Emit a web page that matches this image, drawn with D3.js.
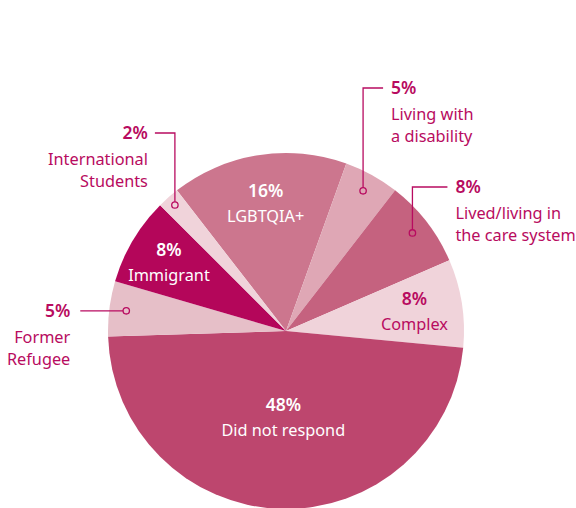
<!DOCTYPE html>
<html><head><meta charset="utf-8">
<script src="https://cdn.jsdelivr.net/npm/d3@7"></script>
<style>body{margin:0;background:#fff;} svg{display:block;}</style>
</head><body>
<script>
const categories = ["LGBTQIA+", "Living with a disability", "Lived/living in the care system", "Complex", "Did not respond", "Former Refugee", "Immigrant", "International Students"];
const values = [16, 5, 8, 8, 48, 5, 8, 2];
const labelLines = [["LGBTQIA+"], ["Living with", "a disability"], ["Lived/living in", "the care system"], ["Complex"], ["Did not respond"], ["Former", "Refugee"], ["Immigrant"], ["International", "Students"]];
const colors = ["#cc768e", "#dfa7b5", "#c5627f", "#f0d3da", "#bd466e", "#e6bfc8", "#b4065a", "#f0d3da"];

const W = 576, H = 508, cx = 286, cy = 331, R = 178;
const accent = "#b80b60";
const font = "'Noto Sans', sans-serif";

// label layout: inside (r) or leader (dotR, elbow offsets)
const layout = [
  {type: "in", r: 130, color: "#fff"},
  {type: "lead", dotR: 160, topY: 88, dir: 1, lineLen: 20, textGap: 8},
  {type: "lead", dotR: 160, topY: 187, dir: 1, lineLen: 35, textGap: 8},
  {type: "in", r: 130, color: accent},
  {type: "in", r: 86, color: "#fff"},
  {type: "lead", dotR: 161, topY: null, dir: -1, lineLen: 46, textGap: 10},
  {type: "in", r: 136, color: "#fff"},
  {type: "lead", dotR: 168, topY: 133, dir: -1, lineLen: 20, textGap: 7}
];

const svg = d3.select("body").append("svg").attr("width", W).attr("height", H);
const g = svg.append("g").attr("transform", `translate(${cx},${cy})`);

const start = -37.8 * Math.PI / 180;
const pie = d3.pie().sort(null).value(d => d).startAngle(start).endAngle(start + 2 * Math.PI);
const arcs = pie(values);
const arc = d3.arc().innerRadius(0).outerRadius(R);

g.selectAll("path.slice").data(arcs).enter().append("path")
  .attr("class", "slice").attr("d", arc).attr("fill", (d, i) => colors[i]);

arcs.forEach((a, i) => {
  const L = layout[i];
  const mid = (a.startAngle + a.endAngle) / 2;
  const pct = values[i] + "%";
  if (L.type === "in") {
    const x = Math.sin(mid) * L.r, y = -Math.cos(mid) * L.r;
    const t = g.append("text").attr("text-anchor", "middle").attr("font-family", font).attr("fill", L.color);
    t.append("tspan").attr("x", x).attr("y", y - 6).attr("font-size", 17.5).attr("font-weight", 600).text(pct);
    labelLines[i].forEach((ln, k) => {
      t.append("tspan").attr("x", x).attr("y", y + 19 + k * 22).attr("font-size", 16.3).text(ln);
    });
  } else {
    const dx = Math.sin(mid) * L.dotR, dy = -Math.cos(mid) * L.dotR;
    const topY = L.topY === null ? dy : L.topY - cy;
    const endX = dx + L.dir * L.lineLen;
    let pts;
    if (L.topY === null) pts = [[dx, dy], [endX, dy]];
    else pts = [[dx, dy], [dx, topY], [endX, topY]];
    g.append("path").attr("d", d3.line()(pts)).attr("fill", "none").attr("stroke", accent).attr("stroke-width", 1.3);
    g.append("circle").attr("cx", dx).attr("cy", dy).attr("r", 3.2).attr("fill", colors[i]).attr("stroke", accent).attr("stroke-width", 1.3);
    const tx = endX + L.dir * L.textGap;
    const t = g.append("text").attr("text-anchor", L.dir > 0 ? "start" : "end").attr("font-family", font).attr("fill", accent);
    t.append("tspan").attr("x", tx).attr("y", topY + 6).attr("font-size", 17.5).attr("font-weight", 600).text(pct);
    labelLines[i].forEach((ln, k) => {
      t.append("tspan").attr("x", tx).attr("y", topY + 32 + k * 22).attr("font-size", 16.3).text(ln);
    });
  }
});
</script>
</body></html>
